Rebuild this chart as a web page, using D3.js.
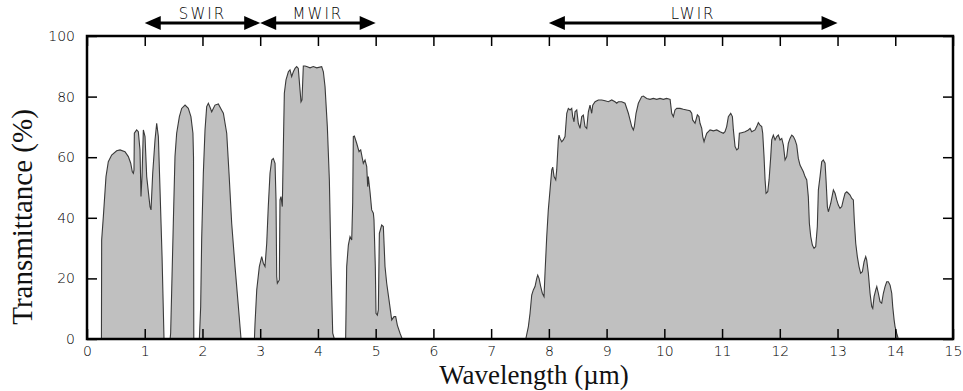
<!DOCTYPE html>
<html>
<head>
<meta charset="utf-8">
<script src="https://cdn.jsdelivr.net/npm/d3@7"></script>
<style>
  body { margin: 0; background: #fff; }
  .tick text { font-family: "DejaVu Sans", sans-serif; font-size: 14px; font-weight: 200; fill: #000; }
  .title { font-family: "Liberation Serif", "Times New Roman", serif; font-size: 29px; fill: #111; }
  .x-title { font-size: 27px; }
  .band-label { font-family: "DejaVu Sans", sans-serif; font-size: 15px; font-weight: 200; letter-spacing: 2px; fill: #000; }
</style>
</head>
<body>
<svg id="chart"></svg>
<script>
// wavelength (um) and transmittance (%), band by band
const wavelength = [
  0.25, 0.254, 0.283, 0.329, 0.369, 0.427, 0.514, 0.572, 0.658, 0.716, 0.757, 0.785, 0.803, 0.814, 0.82, 0.86, 0.889, 0.918, 0.935, 0.953, 0.976, 1.005, 1.034, 1.091, 1.109, 1.138, 1.178, 1.207, 1.236, 1.265, 1.3, 1.334,
  1.44, 1.449, 1.467, 1.495, 1.524, 1.553, 1.6, 1.64, 1.698, 1.755, 1.8, 1.835, 1.845, 1.85,
  1.946, 1.969, 1.986, 2.015, 2.044, 2.073, 2.102, 2.131, 2.16, 2.217, 2.275, 2.333, 2.362, 2.42, 2.46, 2.506, 2.564, 2.622, 2.668,
  2.9, 2.91, 2.94, 2.985, 3.026, 3.054, 3.083, 3.113, 3.14, 3.17, 3.2, 3.227, 3.257, 3.274, 3.286, 3.297, 3.331, 3.343, 3.36, 3.383, 3.4, 3.418, 3.447, 3.488, 3.516, 3.545, 3.574, 3.603, 3.632, 3.66, 3.69, 3.707, 3.724, 3.747, 3.776, 3.805, 3.863, 3.92, 3.979, 4.065, 4.094, 4.123, 4.163, 4.198, 4.227, 4.256, 4.284,
  4.48, 4.498, 4.527, 4.556, 4.585, 4.602, 4.613, 4.631, 4.671, 4.712, 4.741, 4.786, 4.816, 4.845, 4.862, 4.873, 4.902, 4.931, 4.96, 4.971, 4.994, 5.006, 5.029, 5.046, 5.064, 5.104, 5.133, 5.162, 5.191, 5.231, 5.278, 5.318, 5.347, 5.375, 5.422, 5.46,
  7.6, 7.645, 7.674, 7.703, 7.731, 7.76, 7.79, 7.807, 7.83, 7.859, 7.887, 7.916, 7.933, 7.963, 7.99, 8.02, 8.05, 8.067, 8.09, 8.119, 8.136, 8.164, 8.176, 8.193, 8.223, 8.25, 8.28, 8.31, 8.337, 8.367, 8.396, 8.413, 8.436, 8.453, 8.483, 8.51, 8.54, 8.569, 8.597, 8.626, 8.656, 8.684, 8.713, 8.742, 8.76, 8.8, 8.857, 8.916, 8.973, 9.03, 9.089, 9.146, 9.175, 9.203, 9.262, 9.319, 9.377, 9.406, 9.435, 9.463, 9.48, 9.51, 9.55, 9.608, 9.636, 9.695, 9.752, 9.81, 9.868, 9.925, 9.983, 10.04, 10.1, 10.128, 10.156, 10.185, 10.215, 10.272, 10.329, 10.387, 10.445, 10.474, 10.49, 10.532, 10.572, 10.6, 10.618, 10.648, 10.665, 10.688, 10.705, 10.734, 10.792, 10.85, 10.908, 10.965,
  11.022, 11.051, 11.08, 11.109, 11.15, 11.179, 11.196, 11.225, 11.254, 11.282, 11.3, 11.34, 11.398, 11.455, 11.485, 11.514, 11.571, 11.6, 11.628, 11.658, 11.687, 11.704, 11.727, 11.745, 11.762, 11.791, 11.814, 11.843, 11.86, 11.888, 11.918, 11.947, 11.975, 12.004, 12.034, 12.062, 12.091, 12.12, 12.148, 12.177, 12.207, 12.235, 12.264, 12.293, 12.321, 12.35, 12.38, 12.408, 12.437, 12.467, 12.494, 12.512, 12.536, 12.564, 12.593, 12.622, 12.65, 12.668, 12.697, 12.726, 12.754, 12.784, 12.801, 12.824, 12.841, 12.858, 12.882, 12.91, 12.928, 12.957, 12.986, 13.014, 13.043, 13.073, 13.1, 13.13, 13.16, 13.187, 13.217, 13.246, 13.274, 13.29, 13.315, 13.343, 13.372, 13.4, 13.43, 13.46, 13.488, 13.505, 13.534, 13.563, 13.592, 13.61, 13.633, 13.662, 13.68, 13.707, 13.736, 13.765, 13.794, 13.823, 13.852, 13.88, 13.91, 13.939, 13.956, 13.98, 13.996, 14.025, 14.053
];
const transmittance = [
  0, 32.7, 40.4, 53.6, 58.5, 60.7, 62.1, 62.4, 61.8, 60.2, 58, 55.2, 54.7, 55.8, 67.9, 69, 68.4, 62.4, 47, 53.6, 69, 66.8, 53.6, 43.7, 42.6, 54.7, 65.7, 71.2, 66.8, 49.2, 27.2, 0,
  0, 2, 16.2, 38.2, 60.2, 67.9, 73.4, 76.1, 77.2, 76.1, 73.4, 67.9, 60, 0,
  0, 10.7, 32.7, 54.7, 69, 76.7, 77.8, 76.5, 75, 77.2, 77.6, 75.5, 74.5, 67.9, 54.7, 38.2, 23.9, 10.7, 0,
  0, 5, 16.2, 23.9, 27.2, 25, 23.9, 31.6, 43.7, 54.7, 59.1, 59.6, 58, 45.9, 20.6, 18.4, 19.5, 45.9, 47, 43.7, 62.4, 81.1, 85.5, 88.2, 88.8, 86.6, 88.2, 89.3, 89.9, 89.3, 82.2, 78.3, 78.9, 90.1, 90.1, 89.9, 89.5, 89.9, 89.5, 89.9, 88.2, 83.3, 70.1, 52.5, 23.9, 1.9, 0,
  0, 23.9, 31, 33.8, 32.7, 45, 66.8, 67, 64.6, 61.8, 62.4, 58, 59.1, 56.9, 50.3, 53.6, 48.6, 42.6, 41.5, 39.3, 23.9, 8.5, 7.9, 9.6, 34.9, 37.6, 37.1, 23.9, 18.4, 12.9, 6.3, 7.4, 7.4, 4.6, 1.9, 0,
  0, 4.1, 8.5, 14.5, 16.2, 17.3, 20, 21.1, 20, 17.3, 15.1, 14, 21.7, 33.8, 42.6, 49.2, 55.8, 56.7, 53.6, 52.5, 55.8, 65.7, 67.3, 66.2, 65.1, 65.7, 66.8, 74.5, 76.1, 75.6, 76.1, 73.4, 71.7, 75, 75.6, 71.2, 69.5, 73.4, 73.9, 70.1, 69.5, 75, 77.2, 74.5, 77.2, 78.3, 78.9, 78.9, 78.6, 78.3, 78.9, 78.3, 77.8, 78.3, 78.3, 77.8, 74.5, 72.3, 70.1, 69, 70.1, 74.5, 77.8, 80, 80.2, 79.4, 79.1, 79.4, 79.1, 79.4, 79.1, 79.4, 79.1, 74.5, 73.4, 75.6, 76.1, 76.1, 75.8, 75.6, 75.3, 74.5, 72.3, 71.2, 74, 73.4, 71.2, 69.5, 66.8, 65.1, 66.2, 67.9, 69, 68.7, 69, 68.4,
  67.9, 68.4, 70.1, 73.4, 74.5, 73.4, 69, 63.5, 62.4, 62.9, 67.9, 68.1, 68.4, 69, 69.5, 68.4, 69, 70.1, 71.4, 70.6, 70.1, 67.9, 60.2, 52.5, 48.1, 48.6, 52.5, 60.2, 65.7, 67.3, 65.7, 66.8, 67.3, 65.7, 66.2, 64, 59.1, 60.2, 64.6, 66.2, 67.3, 66.8, 65.7, 64, 59.6, 57.4, 56.3, 55.2, 53.6, 52.5, 47, 38.2, 33.8, 31, 29.9, 30.5, 37.1, 49.2, 53.6, 58.5, 59.1, 58, 52.5, 43.7, 42, 43.1, 44.8, 47.5, 49.2, 48.1, 45.9, 44.2, 43.1, 43.7, 45.9, 48.1, 48.6, 48.1, 47.5, 46.4, 45.9, 39.3, 31.6, 27.2, 23.9, 21.7, 22.2, 25.5, 27.2, 26.1, 21.7, 15.1, 10.7, 10.1, 14, 16.2, 17.3, 15.1, 12.3, 11.8, 15.1, 17.3, 18.9, 18.9, 17.8, 15.1, 10.7, 6.3, 4.1, 1.9, 0
];

const xTicks = [0, 1, 2, 3, 4, 5, 6, 7, 8, 9, 10, 11, 12, 13, 14, 15];
const yTicks = [0, 20, 40, 60, 80, 100];

const bandNames = ["SWIR", "MWIR", "LWIR"];
const bandStart = [1, 3, 8];
const bandEnd = [3, 5, 13];

const width = 963, height = 391;
const margin = { top: 36, right: 10, bottom: 52, left: 87 };

const svg = d3.select("#chart")
    .attr("width", width)
    .attr("height", height);

const x = d3.scaleLinear()
    .domain([0, 15])
    .range([margin.left, width - margin.right]);
const y = d3.scaleLinear()
    .domain([0, 100])
    .range([height - margin.bottom, margin.top]);

const data = wavelength.map((w, i) => ({ w: w, t: transmittance[i] }));

// grey transmittance area
const area = d3.area()
    .x(d => x(d.w))
    .y0(y(0))
    .y1(d => y(d.t));
const line = d3.line()
    .x(d => x(d.w))
    .y(d => y(d.t));

svg.append("path")
    .datum(data)
    .attr("d", area)
    .attr("fill", "#c0c0c0");
svg.append("path")
    .datum(data)
    .attr("d", line)
    .attr("fill", "none")
    .attr("stroke", "#3a3a3a")
    .attr("stroke-width", 1.1);

// axes, ticks pointing inwards on all four sides
function styleAxis(g) {
    g.select(".domain").remove();
    g.selectAll(".tick line").attr("stroke", "#000").attr("stroke-width", 1.5);
}

svg.append("g")
    .attr("transform", `translate(0,${y(0)})`)
    .call(d3.axisBottom(x).tickValues(xTicks).tickSize(-10).tickPadding(7))
    .call(styleAxis);
svg.append("g")
    .attr("transform", `translate(0,${y(100)})`)
    .call(d3.axisTop(x).tickValues(xTicks).tickSize(-10).tickFormat(""))
    .call(styleAxis);
svg.append("g")
    .attr("transform", `translate(${x(0)},0)`)
    .call(d3.axisLeft(y).tickValues(yTicks).tickSize(-10).tickPadding(12))
    .call(styleAxis);
svg.append("g")
    .attr("transform", `translate(${x(15)},0)`)
    .call(d3.axisRight(y).tickValues(yTicks).tickSize(-10).tickFormat(""))
    .call(styleAxis);

// frame
svg.append("rect")
    .attr("x", x(0))
    .attr("y", y(100))
    .attr("width", x(15) - x(0))
    .attr("height", y(0) - y(100))
    .attr("fill", "none")
    .attr("stroke", "#000")
    .attr("stroke-width", 2.5);

svg.selectAll(".tick text").attr("font-family", null).attr("font-size", null);

// axis titles
svg.append("text")
    .attr("class", "title x-title")
    .attr("x", 534)
    .attr("y", height - 7)
    .attr("text-anchor", "middle")
    .text("Wavelength (\u00b5m)");
svg.append("text")
    .attr("class", "title")
    .attr("transform", "translate(32,217) rotate(-90)")
    .attr("text-anchor", "middle")
    .text("Transmittance (%)");

// band arrows above the frame
const arrowY = 23, headLen = 16, headHalf = 7;
bandNames.forEach((name, i) => {
    const x0 = x(bandStart[i]), x1 = x(bandEnd[i]);
    const g = svg.append("g");
    g.append("line")
        .attr("x1", x0 + headLen - 2).attr("x2", x1 - headLen + 2)
        .attr("y1", arrowY).attr("y2", arrowY)
        .attr("stroke", "#000").attr("stroke-width", 3);
    g.append("path")
        .attr("d", `M${x0},${arrowY}L${x0 + headLen},${arrowY - headHalf}L${x0 + headLen},${arrowY + headHalf}Z`)
        .attr("fill", "#000");
    g.append("path")
        .attr("d", `M${x1},${arrowY}L${x1 - headLen},${arrowY - headHalf}L${x1 - headLen},${arrowY + headHalf}Z`)
        .attr("fill", "#000");
    g.append("text")
        .attr("class", "band-label")
        .attr("x", (x0 + x1) / 2)
        .attr("y", arrowY - 4)
        .attr("text-anchor", "middle")
        .text(name);
});
</script>
</body>
</html>
